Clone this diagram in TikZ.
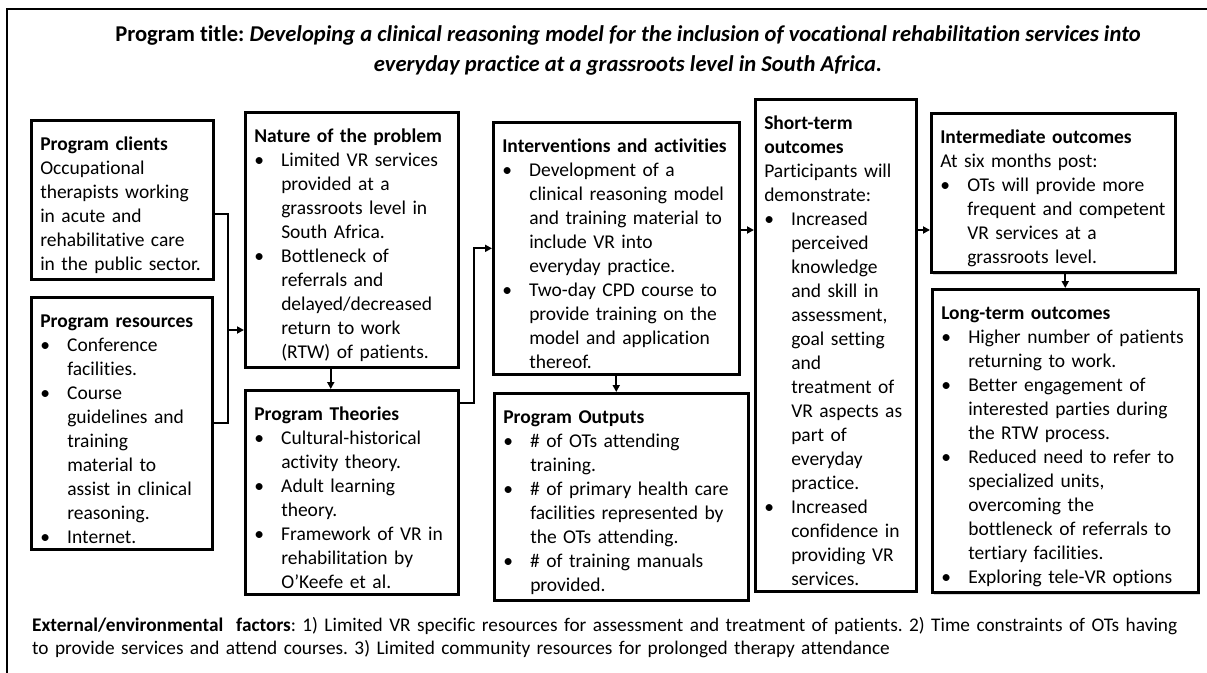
\documentclass[tikz,border=0pt]{standalone}
\usepackage{fontspec}
\setmainfont{Carlito}[Ligatures={NoCommon}]
\usetikzlibrary{arrows.meta,shadows}

% heading line and bullet line inside a box
\newcommand\hd[1]{\par\leftskip=0pt\noindent\textbf{#1}\par}
\newcommand\bul{\par\leftskip=27pt\noindent\llap{\makebox[27pt][l]{\textbullet}}}

\begin{document}
\frenchspacing
\begin{tikzpicture}[x=1pt,y=-1pt,
  box/.style={draw,line width=2.5pt,fill=white,anchor=north west,align=left,
    inner xsep=9pt,inner ysep=6pt,font=\fontsize{19.5}{24}\selectfont,
    drop shadow={shadow xshift=2pt,shadow yshift=-2pt,opacity=0.3}},
  conn/.style={line width=2pt,-{Triangle[length=7pt,width=7pt]}},
  link/.style={line width=2pt}]
\useasboundingbox (0,0) rectangle (1207,672);
\draw[line width=2.5pt] (7,700) -- (7,9) -- (1230,9);

% title
\node[align=center,font=\fontsize{22.6}{30}\selectfont\bfseries] (title) at (628,50)
  {Program title: \itshape Developing a clinical reasoning model for the inclusion of vocational rehabilitation services into\\
   \itshape everyday practice at a grassroots level in South Africa.};

% boxes
\node[box,text width=164pt] (clients) at (30,119) {\hd{Program clients}%
  Occupational\\therapists working\\in acute and\\rehabilitative care\\in the public sector.\par};
\node[box,text width=163pt] (resources) at (30,296) {\hd{Program resources}%
  \bul Conference\\facilities.
  \bul Course\\guidelines and\\training\\material to\\assist in clinical\\reasoning.
  \bul Internet.\par};
\node[box,text width=195pt] (nature) at (244,111) {\hd{Nature of the problem}%
  \bul Limited VR services\\provided at a\\grassroots level in\\South Africa.
  \bul Bottleneck of\\referrals and\\delayed/decreased\\return to work\\(RTW) of patients.\par};
\node[box,text width=195pt] (theories) at (244,389) {\hd{Program Theories}%
  \bul Cultural-historical\\activity theory.
  \bul Adult learning\\theory.
  \bul Framework of VR in\\rehabilitation by\\O’Keefe et al.\par};
\node[box,text width=228pt] (interventions) at (492,121) {\hd{Interventions and activities}%
  \bul Development of a\\clinical reasoning model\\and training material to\\include VR into\\everyday practice.
  \bul Two-day CPD course to\\provide training on the\\model and application\\thereof.\par};
\node[box,text width=236pt] (outputs) at (493,392) {\hd{Program Outputs}%
  \bul \# of OTs attending\\training.
  \bul \# of primary health care\\facilities represented by\\the OTs attending.
  \bul \# of training manuals\\provided.\par};
\node[box,text width=143pt] (short) at (754,98) {\hd{Short-term\\outcomes}%
  Participants will\\demonstrate:
  \bul Increased\\perceived\\knowledge\\and skill in\\assessment,\\goal setting\\and\\treatment of\\VR aspects as\\part of\\everyday\\practice.
  \bul Increased\\confidence in\\providing VR\\services.\par};
\node[box,text width=226pt] (inter) at (930,112) {\hd{Intermediate outcomes}%
  At six months post:
  \bul OTs will provide more\\frequent and competent\\VR services at a\\grassroots level.\par};
\node[box,text width=248pt] (long) at (931,288) {\hd{Long-term outcomes}%
  \bul Higher number of patients\\returning to work.
  \bul Better engagement of\\interested parties during\\the RTW process.
  \bul Reduced need to refer to\\specialized units,\\overcoming the\\bottleneck of referrals to\\tertiary facilities.
  \bul Exploring tele-VR options\par};

% external factors
\node[anchor=north west,inner sep=0pt,text width=1180pt,align=left,
  font=\fontsize{19.3}{23}\selectfont] (factors) at (32,617)
  {\textbf{External/environmental\ \ factors}: 1) Limited VR specific resources for assessment and treatment of patients. 2) Time constraints of OTs having\\
   to provide services and attend courses. 3) Limited community resources for prolonged therapy attendance};

% connectors
\coordinate (join) at (228,330);
\draw[link] ([yshift=-14pt]clients.east) -| (join);
\draw[link] (resources.east) -| (join);
\draw[conn] (join) -- (join -| nature.west);
\coordinate (ntp) at ([xshift=-21pt]nature.south);
\draw[conn] (ntp) -- (ntp |- theories.north);
\coordinate (tbend) at (474,0);
\draw[conn] ([yshift=-14pt]theories.north east) -| (tbend |- interventions.west) -- (interventions.west);
\draw[conn] (interventions.south) -- (interventions.south |- outputs.north);
\coordinate (lvl) at (0,230);
\draw[conn] (lvl -| interventions.east) -- (lvl -| short.west);
\draw[conn] (lvl -| short.east) -- (lvl -| inter.west);
\draw[conn] (long.north |- inter.south) -- (long.north);
\end{tikzpicture}
\end{document}
